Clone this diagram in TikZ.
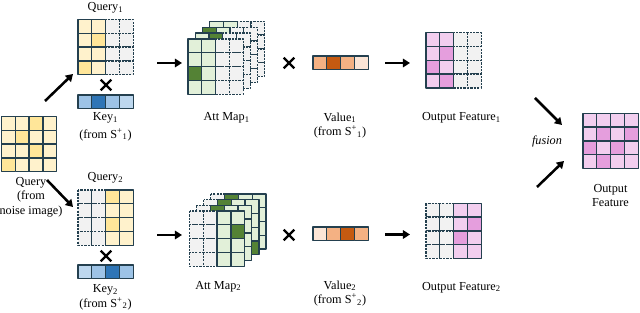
\documentclass[tikz,border=0pt]{standalone}
\usepackage{fontspec}
\setmainfont{Liberation Serif}
\usetikzlibrary{arrows.meta,shapes.misc}
\definecolor{bordecelda}{HTML}{24404F}
\definecolor{gris}{HTML}{F2F2F2}
\definecolor{am1}{HTML}{FFF2CC}
\definecolor{am2}{HTML}{FFE699}
\definecolor{az1}{HTML}{BDD7EE}
\definecolor{az2}{HTML}{9DC3E6}
\definecolor{az3}{HTML}{2E75B6}
\definecolor{ve1}{HTML}{E2F0D9}
\definecolor{ve2}{HTML}{548235}
\definecolor{na1}{HTML}{FBE5D6}
\definecolor{na2}{HTML}{F4B183}
\definecolor{na3}{HTML}{C55A11}
\definecolor{ro1}{HTML}{F2CEEF}
\definecolor{ro2}{HTML}{E59EDD}

\def\lado{13.8}
\def\vacia{gris}
\newcommand{\celdas}[3]{%
  \foreach[count=\i from 0] \f in {#3}{%
    \pgfmathtruncatemacro{\fila}{\i/4}%
    \pgfmathtruncatemacro{\col}{\i-4*\fila}%
    \ifx\f\vacia
      \draw[celdavacia] (#1+\col*\lado,#2+\fila*\lado) rectangle ++(\lado,\lado);
    \fi}%
  \foreach[count=\i from 0] \f in {#3}{%
    \pgfmathtruncatemacro{\fila}{\i/4}%
    \pgfmathtruncatemacro{\col}{\i-4*\fila}%
    \ifx\f\vacia\else
      \draw[celda,fill=\f] (#1+\col*\lado,#2+\fila*\lado) rectangle ++(\lado,\lado);
    \fi}}

\begin{document}
\begin{tikzpicture}[x=0.025cm,y=-0.025cm,line join=round,
    celda/.style={draw=bordecelda,line width=0.9pt},
    celdavacia/.style={draw=bordecelda,fill=gris,line width=0.9pt,dash pattern=on 1.6pt off 0.8pt},
    flecha/.style={line width=1.8pt,-{Triangle[length=5pt,width=6pt]}},
    por/.style={cross out,draw,line width=1.6pt,minimum size=6pt,inner sep=0pt},
    etiqueta/.style={font=\fontsize{8.7}{10.4}\selectfont,align=center}]
    \useasboundingbox (0,0) rectangle (640,313);

    \celdas{1.5}{116.5}{am1,am1,am2,am1,am1,am2,am1,am1,am1,am1,am2,am1,am2,am1,am1,am1}
    \node[etiqueta] (lq) at (31,197) {Query\\(from\\noise image)};

    \celdas{78}{19.5}{am1,am1,gris,gris,am1,am2,gris,gris,am1,am1,gris,gris,am2,am1,gris,gris}
    \node[etiqueta] (lq1) at (105.5,8) {Query\textsubscript{1}};
    \node[por] (x1) at (106,85) {};
    \celdas{78}{95}{az2,az3,az2,az1}
    \node[etiqueta] (lk1) at (105.5,127) {Key\textsubscript{1}\\[2pt](from S\textsuperscript{+}\textsubscript{1})};

    \celdas{78}{190}{gris,gris,am2,am1,gris,gris,am1,am1,gris,gris,am2,am1,gris,gris,am1,am1}
    \node[etiqueta] (lq2) at (105.5,178) {Query\textsubscript{2}};
    \node[por] (x2) at (106,256) {};
    \celdas{78}{265}{az1,az2,az3,az2}
    \node[etiqueta] (lk2) at (105.5,297.5) {Key\textsubscript{2}\\(from S\textsuperscript{+}\textsubscript{2})};

    \coordinate (q0a) at (45,101);
    \coordinate (q1a) at (73,74);
    \coordinate (q0b) at (47,180);
    \coordinate (q2a) at (73,207);
    \draw[flecha] (q0a)--(q1a);
    \draw[flecha] (q0b)--(q2a);

    \celdas{209.6}{21.3}{ve1,ve1,gris,gris,ve1,ve1,gris,gris,ve1,ve1,gris,gris,ve1,ve1,gris,gris}
    \celdas{202.4}{27.2}{ve2,ve1,gris,gris,ve1,ve1,gris,gris,ve1,ve1,gris,gris,ve1,ve1,gris,gris}
    \celdas{195.2}{33.1}{ve1,ve2,gris,gris,ve1,ve1,gris,gris,ve1,ve1,gris,gris,ve1,ve1,gris,gris}
    \celdas{188}{39}{ve1,ve1,gris,gris,ve1,ve1,gris,gris,ve2,ve1,gris,gris,ve1,ve1,gris,gris}
    \node[etiqueta] (lm1) at (226.7,118) {Att Map\textsubscript{1}};

    \celdas{210.8}{193.9}{gris,ve2,ve1,ve1,gris,ve1,ve1,ve1,gris,ve1,ve1,ve1,gris,ve1,ve1,ve1}
    \celdas{203.7}{199.6}{gris,ve2,ve1,ve1,gris,ve1,ve1,ve1,gris,ve1,ve1,ve1,gris,ve1,ve1,ve2}
    \celdas{196.6}{205.3}{gris,ve2,ve1,ve1,gris,ve1,ve1,ve1,gris,ve1,ve1,ve1,gris,ve1,ve1,ve1}
    \celdas{189.5}{211}{gris,gris,ve1,ve1,gris,gris,ve1,ve2,gris,gris,ve1,ve1,gris,gris,ve1,ve1}
    \node[etiqueta] (lm2) at (218.3,286.7) {Att Map\textsubscript{2}};

    \coordinate (m1a) at (157,63);
    \coordinate (m1b) at (182,63);
    \coordinate (m2a) at (157,235);
    \coordinate (m2b) at (182,235);
    \draw[flecha] (m1a)--(m1b);
    \draw[flecha] (m2a)--(m2b);

    \node[por] (x3) at (289,63) {};
    \node[por] (x4) at (289,235) {};
    \celdas{313}{56}{na2,na3,na2,na1}
    \celdas{313}{227}{na1,na2,na3,na2}
    \node[etiqueta] (lv1) at (340,125.5) {Value\textsubscript{1}\\(from S\textsuperscript{+}\textsubscript{1})};
    \node[etiqueta] (lv2) at (340,293.5) {Value\textsubscript{2}\\(from S\textsuperscript{+}\textsubscript{2})};

    \coordinate (v1a) at (385,63);
    \coordinate (v1b) at (410,63);
    \coordinate (v2a) at (385,234.5);
    \coordinate (v2b) at (410,234.5);
    \draw[flecha] (v1a)--(v1b);
    \draw[flecha] (v2a)--(v2b);

    \celdas{426}{32.7}{ro1,ro1,gris,gris,ro1,ro2,gris,gris,ro2,ro1,gris,gris,ro1,ro2,gris,gris}
    \celdas{426}{203.3}{gris,gris,ro1,ro1,gris,gris,ro1,ro2,gris,gris,ro2,ro1,gris,gris,ro1,ro1}
    \node[etiqueta] (lo1) at (461.5,118) {Output Feature\textsubscript{1}};
    \node[etiqueta] (lo2) at (461.5,287.3) {Output Feature\textsubscript{2}};

    \coordinate (o1a) at (535,98);
    \coordinate (o1b) at (562,125);
    \coordinate (o2a) at (537,187);
    \coordinate (o2b) at (564,161);
    \draw[flecha] (o1a)--(o1b);
    \draw[flecha] (o2a)--(o2b);
    \node[etiqueta,font=\fontsize{8.7}{10.4}\selectfont\itshape] (lf) at (547,142) {fusion};

    \celdas{583}{113.3}{ro1,ro1,ro1,ro1,ro1,ro2,ro1,ro2,ro2,ro1,ro2,ro1,ro1,ro2,ro1,ro1}
    \node[etiqueta] (lo) at (610.5,195.5) {Output\\Feature};
\end{tikzpicture}
\end{document}
